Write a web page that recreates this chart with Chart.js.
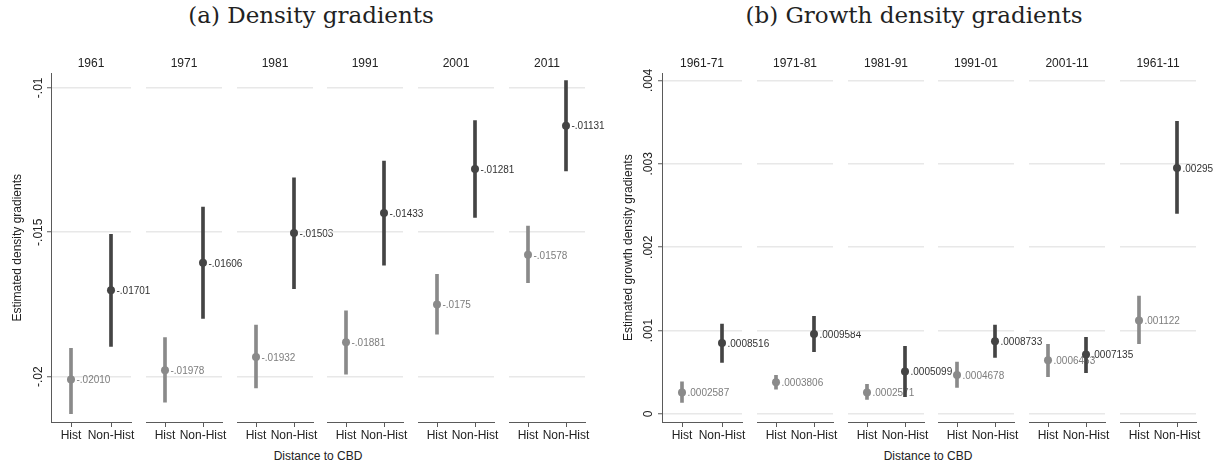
<!DOCTYPE html>
<html>
<head>
<meta charset="utf-8">
<title>Density gradients</title>
<script src="https://cdn.jsdelivr.net/npm/chart.js@4.4.1/dist/chart.umd.min.js"></script>
<style>
  html, body { margin: 0; padding: 0; background: #fff; }
  #stage { position: relative; width: 1214px; height: 466px; overflow: hidden; }
  #stage canvas { position: absolute; top: 40px; }
  .panel-title {
    position: absolute; top: 1px; line-height: 28px;
    font-family: 'DejaVu Serif', serif; font-size: 23px; color: #222;
    transform: translateX(-50%); white-space: nowrap;
  }
  .axis-title {
    position: absolute; top: 449px; line-height: 14px;
    font-family: 'Liberation Sans', Arial, sans-serif; font-size: 12px; color: #222;
    transform: translateX(-50%); white-space: nowrap;
  }
</style>
</head>
<body>
<div id="stage">
  <div class="panel-title" style="left:311px">(a) Density gradients</div>
  <div class="panel-title" style="left:914px">(b) Growth density gradients</div>
  <div class="axis-title" style="left:318px">Distance to CBD</div>
  <div class="axis-title" style="left:928px">Distance to CBD</div>
</div>
<script>
// ============================================
// Data
// ============================================

const categories = ['Hist', 'Non-Hist'];

// (a) Density gradients
const densityYears = ['1961', '1971', '1981', '1991', '2001', '2011'];
const densityHist = [-0.02010, -0.01978, -0.01932, -0.01881, -0.0175, -0.01578];
const densityHistLo = [-0.02128, -0.02088, -0.02039, -0.01991, -0.01853, -0.01675];
const densityHistHi = [-0.01902, -0.01865, -0.01821, -0.01772, -0.01646, -0.01479];
const densityNonHist = [-0.01701, -0.01606, -0.01503, -0.01433, -0.01281, -0.01131];
const densityNonHistLo = [-0.01895, -0.01798, -0.01695, -0.01614, -0.01449, -0.01288];
const densityNonHistHi = [-0.01507, -0.01413, -0.01312, -0.01254, -0.01113, -0.00975];
const densityHistLabels = ['-.02010', '-.01978', '-.01932', '-.01881', '-.0175', '-.01578'];
const densityNonHistLabels = ['-.01701', '-.01606', '-.01503', '-.01433', '-.01281', '-.01131'];
const densityTicks = [-0.02, -0.015, -0.01];
const densityTickLabels = ['-.02', '-.015', '-.01'];

// (b) Growth density gradients
const growthPeriods = ['1961-71', '1971-81', '1981-91', '1991-01', '2001-11', '1961-11'];
const growthHist = [0.0002587, 0.0003806, 0.0002571, 0.0004678, 0.0006453, 0.001122];
const growthHistLo = [0.00014, 0.000299, 0.000176, 0.00032, 0.000447, 0.000842];
const growthHistHi = [0.000387, 0.000463, 0.000356, 0.000623, 0.000835, 0.001413];
const growthNonHist = [0.0008516, 0.0009584, 0.0005099, 0.0008733, 0.0007135, 0.00295];
const growthNonHistLo = [0.000619, 0.000746, 0.000207, 0.000679, 0.000495, 0.002404];
const growthNonHistHi = [0.001078, 0.00117, 0.000811, 0.001066, 0.000918, 0.003509];
const growthHistLabels = ['.0002587', '.0003806', '.0002571', '.0004678', '.0006453', '.001122'];
const growthNonHistLabels = ['.0008516', '.0009584', '.0005099', '.0008733', '.0007135', '.00295'];
const growthTicks = [0, 0.001, 0.002, 0.003, 0.004];
const growthTickLabels = ['0', '.001', '.002', '.003', '.004'];

// ============================================
// Style / layout
// ============================================

const COLORS = {
    hist: '#8a8a8a',
    nonHist: '#444444',
    histText: '#7d7d7d',
    nonHistText: '#333333',
    grid: '#e8e8e8',
    axis: '#5a5a5a',
    text: '#222222'
};
const FONT = "'Liberation Sans', Arial, sans-serif";

const PLOT_W = 80;      // width of one facet plot area
const STEP = 90.8;      // distance between facets
const Y_AXIS_W = 51;    // room for y title + tick labels
const RIGHT_PAD = 60;   // room for value labels spilling right
const CANVAS_H = 426;

const panels = [
    {
        facets: densityYears,
        hist: densityHist, histLo: densityHistLo, histHi: densityHistHi,
        nonHist: densityNonHist, nonHistLo: densityNonHistLo, nonHistHi: densityNonHistHi,
        histLabels: densityHistLabels, nonHistLabels: densityNonHistLabels,
        ticks: densityTicks, tickLabels: densityTickLabels,
        yMin: -0.02157, yMax: -0.0095,
        yTitle: 'Estimated density gradients',
        plotLeft: 51, tickPadding: -5
    },
    {
        facets: growthPeriods,
        hist: growthHist, histLo: growthHistLo, histHi: growthHistHi,
        nonHist: growthNonHist, nonHistLo: growthNonHistLo, nonHistHi: growthNonHistHi,
        histLabels: growthHistLabels, nonHistLabels: growthNonHistLabels,
        ticks: growthTicks, tickLabels: growthTickLabels,
        yMin: -0.0000958, yMax: 0.004084,
        yTitle: 'Estimated growth density gradients',
        plotLeft: 662, tickPadding: -2
    }
];

// ============================================
// Value labels next to the markers
// ============================================

const valueLabels = {
    id: 'valueLabels',
    beforeDatasetsDraw(chart, args, opts) {
        const meta = chart.getDatasetMeta(1);
        const ctx = chart.ctx;
        ctx.save();
        ctx.font = '10px ' + FONT;
        ctx.textBaseline = 'middle';
        ctx.textAlign = 'left';
        meta.data.forEach((pt, i) => {
            ctx.fillStyle = opts.colors[i];
            ctx.fillText(opts.labels[i], pt.x + 5.5, pt.y + 1);
        });
        ctx.restore();
    }
};

// ============================================
// Build one facet
// ============================================

function makeFacet(panel, i) {
    const first = i === 0;
    const yW = first ? Y_AXIS_W : 0;
    const left = panel.plotLeft + i * STEP - yW;

    const canvas = document.createElement('canvas');
    canvas.width = yW + PLOT_W + RIGHT_PAD;
    canvas.height = CANVAS_H;
    canvas.style.left = left + 'px';
    document.getElementById('stage').appendChild(canvas);

    new Chart(canvas.getContext('2d'), {
        type: 'bar',
        data: {
            labels: categories,
            datasets: [
                {
                    type: 'bar',
                    order: 1,
                    data: [[panel.histLo[i], panel.histHi[i]], [panel.nonHistLo[i], panel.nonHistHi[i]]],
                    backgroundColor: [COLORS.hist, COLORS.nonHist],
                    barThickness: 3,
                    borderWidth: 0
                },
                {
                    type: 'line',
                    order: 0,
                    data: [panel.hist[i], panel.nonHist[i]],
                    showLine: false,
                    pointRadius: 4,
                    pointHoverRadius: 4,
                    pointBorderWidth: 0,
                    pointBackgroundColor: [COLORS.hist, COLORS.nonHist]
                }
            ]
        },
        options: {
            responsive: false,
            animation: false,
            events: [],
            layout: { padding: { left: 0, right: RIGHT_PAD, top: 0, bottom: 0 } },
            plugins: {
                legend: { display: false },
                tooltip: { enabled: false },
                title: {
                    display: true,
                    fullSize: false,
                    text: panel.facets[i],
                    color: COLORS.text,
                    font: { family: FONT, size: 12, weight: 'normal' },
                    padding: { top: 16, bottom: 3 }
                },
                valueLabels: {
                    labels: [panel.histLabels[i], panel.nonHistLabels[i]],
                    colors: [COLORS.histText, COLORS.nonHistText]
                }
            },
            scales: {
                x: {
                    type: 'category',
                    offset: true,
                    afterFit: s => { s.height = 44; },
                    border: { display: true, color: COLORS.axis, width: 1 },
                    grid: {
                        display: true,
                        drawOnChartArea: false,
                        drawTicks: true,
                        offset: false,
                        tickLength: 5,
                        tickColor: COLORS.axis
                    },
                    ticks: {
                        color: COLORS.text,
                        font: { family: FONT, size: 12 },
                        padding: 1,
                        maxRotation: 0,
                        autoSkip: false
                    }
                },
                y: {
                    min: panel.yMin,
                    max: panel.yMax,
                    afterBuildTicks: s => { s.ticks = panel.ticks.map(v => ({ value: v })); },
                    afterFit: s => { s.width = yW; },
                    border: { display: first, color: COLORS.axis, width: 1 },
                    grid: {
                        color: COLORS.grid,
                        lineWidth: 1.5,
                        drawTicks: first,
                        tickLength: 4,
                        tickColor: COLORS.axis,
                        tickWidth: 1
                    },
                    ticks: {
                        display: first,
                        minRotation: 90,
                        maxRotation: 90,
                        crossAlign: 'center',
                        padding: panel.tickPadding,
                        color: COLORS.text,
                        font: { family: FONT, size: 12 },
                        callback: (v, idx) => panel.tickLabels[idx]
                    },
                    title: {
                        display: first,
                        text: panel.yTitle,
                        color: COLORS.text,
                        font: { family: FONT, size: 12 },
                        padding: { top: 10, bottom: 0 }
                    }
                }
            }
        },
        plugins: [valueLabels]
    });
}

panels.forEach(panel => {
    panel.facets.forEach((_, i) => makeFacet(panel, i));
});
</script>
</body>
</html>
